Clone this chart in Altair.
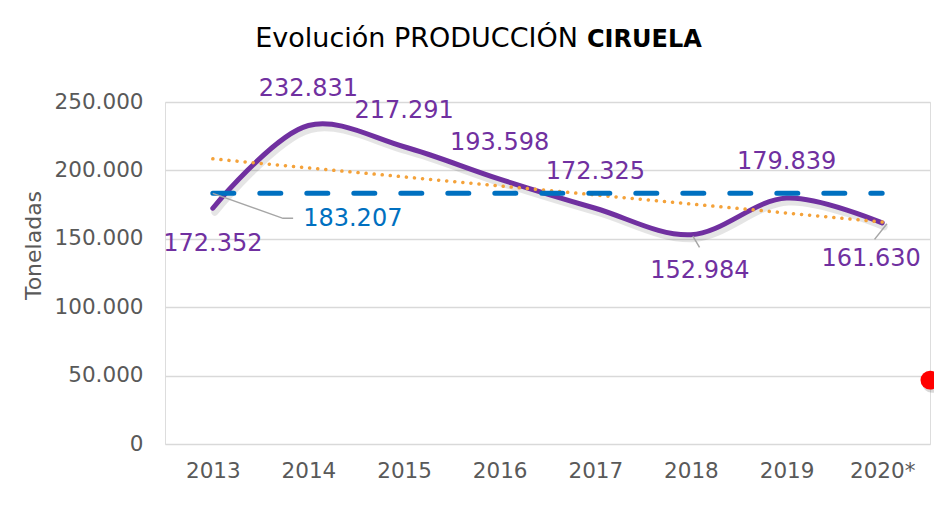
import altair as alt
import pandas as pd

# ---- data ----
years = ["2013", "2014", "2015", "2016", "2017", "2018", "2019", "2020*"]
production = [172352, 232831, 217291, 193598, 172325, 152984, 179839, 161630]
label_pos = ["below", "above", "above", "above", "above", "below", "above", "below"]
label_text = ["172.352", "232.831", "217.291", "193.598", "172.325", "152.984", "179.839", "161.630"]
mean_value = 183207
mean_text = "183.207"
red_dot_value = [46700]

# ---- style ----
PURPLE = "#7030A0"
BLUE = "#0070C0"
ORANGE = "#F4A23A"
GREY = "#595959"
FONT = "DejaVu Sans"
LABEL_DY = {"above": -36, "below": 36}
LABEL_DX = {5: 9, 7: -11}

W, H = 765, 342

df = pd.DataFrame({
    "idx": list(range(len(years))),
    "year": years,
    "value": production,
    "label": label_text,
    "pos": label_pos,
})

label_expr = "[" + ",".join(f"'{y}'" for y in years) + "][datum.value]"

x_enc = alt.X("idx:Q",
              scale=alt.Scale(domain=[-0.5, len(years) - 0.5], nice=False, zero=False),
              axis=alt.Axis(values=list(range(len(years))), labelExpr=label_expr, title=None,
                            grid=False, domain=False, ticks=False, labelPadding=16,
                            labelFont=FONT, labelFontSize=21.5, labelColor=GREY))
y_scale = alt.Scale(domain=[0, 250000], nice=False)
y_enc = alt.Y("value:Q", scale=y_scale,
              axis=alt.Axis(values=[0, 50000, 100000, 150000, 200000, 250000],
                            labelExpr="replace(format(datum.value, ',.0f'), /,/g, '.')",
                            title="Toneladas", titleFont=FONT, titleFontSize=22,
                            titleFontWeight="normal", titleColor=GREY,
                            titleX=-132, titleY=143, titleAngle=-90,
                            titleAlign="center", titleBaseline="middle",
                            grid=True, gridColor="#D9D9D9", gridWidth=1.5,
                            domain=False, ticks=False, labelPadding=22,
                            labelFont=FONT, labelFontSize=21.5, labelColor=GREY))

base = alt.Chart(df)

shadow = base.mark_line(interpolate="catmull-rom", color="#000000", opacity=0.10,
                        strokeWidth=7, xOffset=2, yOffset=4, strokeCap="round").encode(
    x=x_enc, y=y_enc)

main_line = base.mark_line(interpolate="catmull-rom", color=PURPLE, strokeWidth=5,
                           strokeCap="round").encode(x="idx:Q", y="value:Q")

trend = base.transform_regression("idx", "value", extent=[0, len(years) - 1]).mark_line(
    color=ORANGE, strokeWidth=3.5, strokeDash=[0.1, 8], strokeCap="round").encode(
    x="idx:Q", y="value:Q")

mean_df = pd.DataFrame({"x": [0], "x2": [len(years) - 1], "value": [mean_value]})
mean_rule = alt.Chart(mean_df).mark_rule(color=BLUE, strokeWidth=5, strokeDash=[21, 26],
                                         strokeCap="round").encode(
    x="x:Q", x2="x2:Q", y="value:Q")

# leader lines (data units)
leader_df = pd.DataFrame({
    "g": ["m", "m", "m", "a", "a", "b", "b"],
    "o": [0, 1, 2, 0, 1, 0, 1],
    "x": [0.0, 0.734, 0.84, 5.02, 5.09, 7.05, 6.92],
    "value": [mean_value, 164960, 164960, 152000, 143800, 161000, 149600],
})
leaders = alt.Chart(leader_df).mark_line(color="#A6A6A6", strokeWidth=1.5).encode(
    x="x:Q", y="value:Q", detail="g:N", order="o:Q")

label_layers = []
for i, pos in enumerate(label_pos):
    label_layers.append(
        base.transform_filter(alt.datum.idx == i).mark_text(
            font=FONT, fontSize=24, color=PURPLE, dy=LABEL_DY[pos], dx=LABEL_DX.get(i, 0),
            baseline="middle").encode(x="idx:Q", y="value:Q", text="label:N"))

mean_label_df = pd.DataFrame({"x": [0.945], "value": [164300], "t": [mean_text]})
mean_label = alt.Chart(mean_label_df).mark_text(
    font=FONT, fontSize=24, color=BLUE, align="left", baseline="middle").encode(
    x="x:Q", y="value:Q", text="t:N")

red_df = pd.DataFrame({"x": [len(years) - 0.5], "value": red_dot_value})
red_shadow = alt.Chart(red_df).mark_circle(color="#000000", opacity=0.15, size=380,
                                           xOffset=2, yOffset=3, clip=False).encode(
    x="x:Q", y="value:Q")
red_dot = alt.Chart(red_df).mark_circle(color="#FF0000", opacity=1, size=360, clip=False).encode(
    x="x:Q", y="value:Q")

title_df = pd.DataFrame({"a": ["Evolución PRODUCCIÓN"], "b": ["CIRUELA"]})
title_a = alt.Chart(title_df).mark_text(font=FONT, fontSize=27, color="#000000",
                                        align="right", baseline="middle").encode(
    x=alt.value(413), y=alt.value(-63), text="a:N")
title_b = alt.Chart(title_df).mark_text(font=FONT, fontSize=24, fontWeight="bold",
                                        color="#000000", align="left", baseline="middle").encode(
    x=alt.value(422), y=alt.value(-62), text="b:N")

chart = alt.layer(shadow, main_line, trend, mean_rule, leaders, *label_layers, mean_label,
                  red_shadow, red_dot, title_a, title_b).properties(
    width=W, height=H,
    autosize=alt.AutoSizeParams(type="none"),
    padding={"left": 157, "top": 94, "right": 4, "bottom": 53},
).configure_view(stroke=None).configure(background="white")

chart.save("out.html", embed_options={"renderer": "svg", "actions": False})
